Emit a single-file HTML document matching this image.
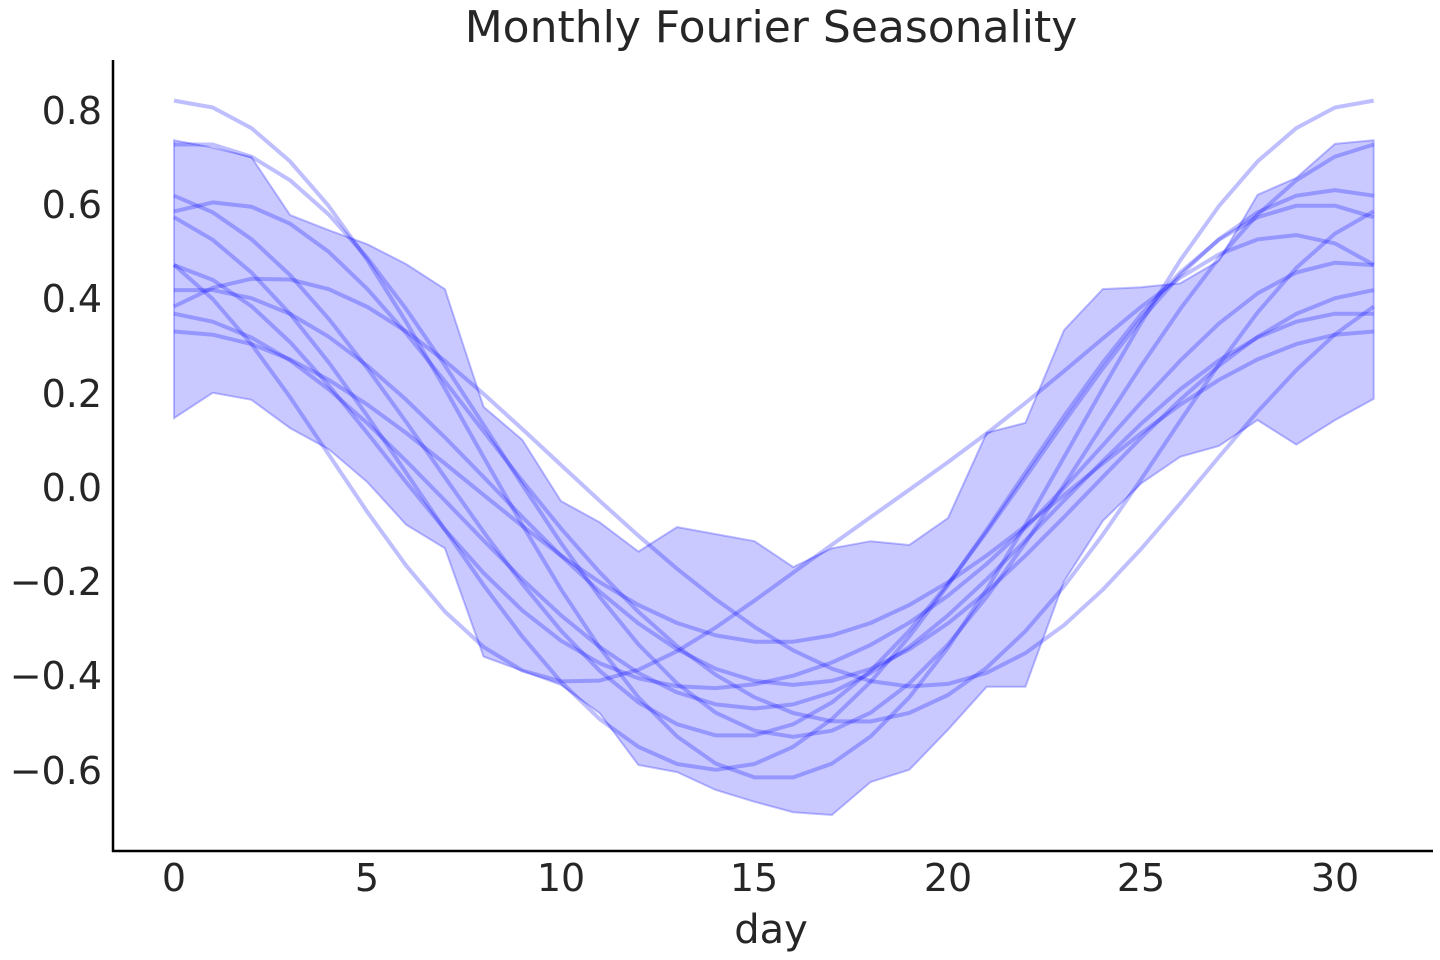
<!DOCTYPE html>
<html><head><meta charset="utf-8"><style>
html,body{margin:0;padding:0;background:#fff;}
svg{display:block;font-family:"DejaVu Sans","Liberation Sans",sans-serif;}
</style></head><body>
<svg id="s" width="1440" height="960" xmlns="http://www.w3.org/2000/svg">
<rect width="1440" height="960" fill="#fff"/>
<g id="plot"></g>
<line x1="113" y1="60" x2="113" y2="852" stroke="#000" stroke-width="2.5"/>
<line x1="112" y1="851" x2="1433" y2="851" stroke="#000" stroke-width="2.5"/>
<text x="771" y="42" font-size="44" text-anchor="middle" fill="#262626">Monthly Fourier Seasonality</text>
<g font-size="38" fill="#262626" text-anchor="end">
<text x="102" y="124">0.8</text>
<text x="102" y="218">0.6</text>
<text x="102" y="312">0.4</text>
<text x="102" y="407">0.2</text>
<text x="102" y="501">0.0</text>
<text x="102" y="595">−0.2</text>
<text x="102" y="689">−0.4</text>
<text x="102" y="784">−0.6</text>
</g>
<g font-size="38" fill="#262626" text-anchor="middle">
<text x="174" y="891">0</text>
<text x="367" y="891">5</text>
<text x="561" y="891">10</text>
<text x="754" y="891">15</text>
<text x="948" y="891">20</text>
<text x="1141" y="891">25</text>
<text x="1335" y="891">30</text>
<text x="771" y="943" font-size="40">day</text>
</g>
</svg>
<script>
function X(d){return 174+d*38.7;}
function Y(v){return 487-v*471.25;}
var up=[0.736,0.72,0.70,0.577,0.545,0.515,0.473,0.42,0.17,0.10,-0.03,-0.075,-0.137,-0.085,-0.10,-0.115,-0.17,-0.13,-0.115,-0.123,-0.066,0.115,0.136,0.333,0.42,0.424,0.432,0.48,0.62,0.656,0.728,0.736];
var lo=[0.146,0.2,0.185,0.125,0.08,0.01,-0.08,-0.13,-0.36,-0.39,-0.42,-0.48,-0.59,-0.605,-0.643,-0.668,-0.69,-0.696,-0.626,-0.6,-0.515,-0.424,-0.424,-0.2,-0.072,0.008,0.064,0.087,0.142,0.09,0.142,0.187];
var g=document.getElementById('plot');var ns="http://www.w3.org/2000/svg";
var d="M";for(var i=0;i<32;i++)d+=X(i).toFixed(1)+","+Y(up[i]).toFixed(1)+" L";
for(var i=31;i>=0;i--)d+=X(i).toFixed(1)+","+Y(lo[i]).toFixed(1)+(i?" L":" Z");
var p=document.createElementNS(ns,'path');p.setAttribute('d',d);p.setAttribute('fill','rgba(0,0,255,0.21)');p.setAttribute('stroke','rgba(0,0,255,0.25)');p.setAttribute('stroke-width','2');g.appendChild(p);
var L=[[0.1,0.72,0,0,0],[0.1,0.63,0.5,0,0],[0.05,0.58,-1,0,0],[0,0.6,-1.5,0,0],[0.02,0.55,1.5,0.04,0],[-0.02,0.45,-1,0.05,0],[0,0.42,0.5,0,0],[-0.05,0.42,-0.5,0,0],[0,0.33,0,0,0],[0.05,0.45,-3.5,0.08,0],[0,0.43,3,0.03,0]];
L.forEach(function(a){var s="M";for(var i=0;i<32;i++){var v=a[0]+a[1]*Math.cos(2*Math.PI*(i-a[2])/31)+a[3]*Math.cos(4*Math.PI*(i-a[4])/31);s+=X(i).toFixed(1)+","+Y(v).toFixed(1)+(i<31?" L":"");}
var q=document.createElementNS(ns,'path');q.setAttribute('d',s);q.setAttribute('fill','none');q.setAttribute('stroke','rgba(0,0,255,0.25)');q.setAttribute('stroke-width','4');q.setAttribute('stroke-linejoin','round');g.appendChild(q);});
</script>
</body></html>
